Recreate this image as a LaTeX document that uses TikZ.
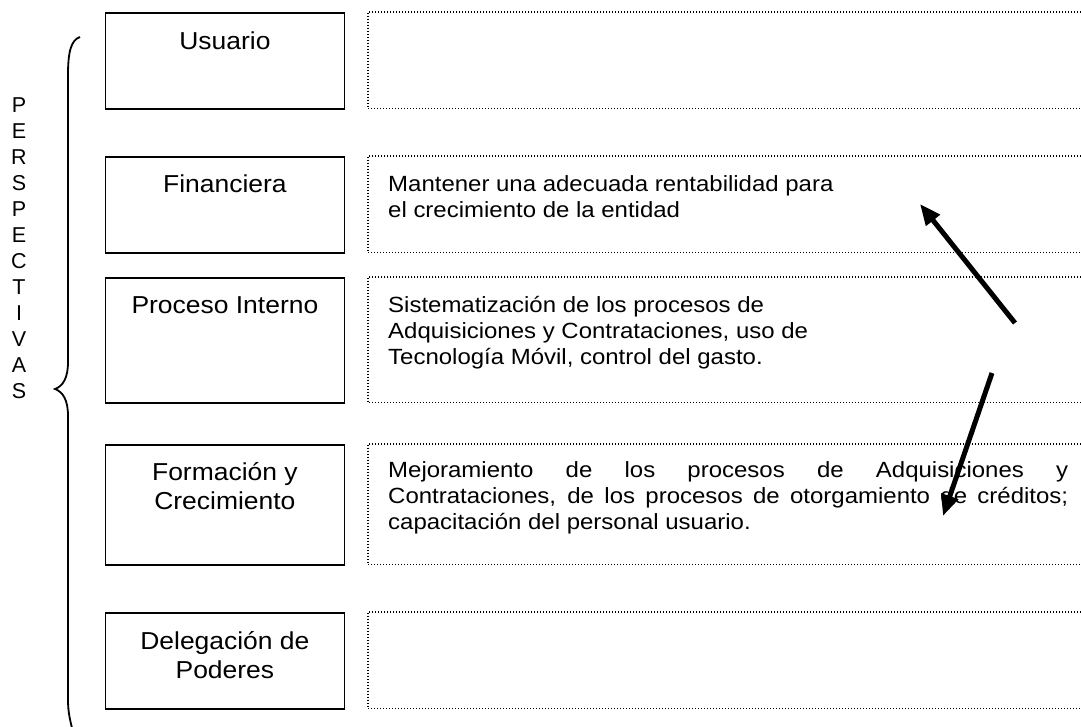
\documentclass[tikz,border=0pt]{standalone}
\usepackage{fontspec}
\setmainfont{Liberation Sans}
\newfontfamily\labfont[FakeStretch=1.08]{Liberation Sans}
\newfontfamily\txtfont[FakeStretch=1.09]{Liberation Sans}
\usetikzlibrary{arrows.meta}
\begin{document}
\begin{tikzpicture}[x=1pt,y=-1pt,
  persp/.style={draw, line width=1.8pt, minimum width=239pt, anchor=north west, inner sep=0pt},
  lab/.style={inner sep=0pt, align=center, anchor=base, font=\labfont\fontsize{24.5}{29}\selectfont},
  obj/.style={inner sep=0pt, minimum width=713pt, anchor=north west},
  dotline/.style={line width=1.3pt, dash pattern=on 1.2pt off 1.8pt},
  txt/.style={inner sep=0pt, align=left, anchor=base west, font=\txtfont\fontsize{22}{26}\selectfont},
  bigarrow/.style={line width=5pt, -{Triangle[length=21pt,width=17pt]}},
  brace/.style={line width=1.8pt}]
\useasboundingbox (0,0) rectangle (1081,726);

% vertical label (anchor base = last line)
\node[inner sep=0pt, align=center, anchor=base, font=\fontsize{21.5}{26}\selectfont] (persp) at (19,398)
  {P\\E\\R\\S\\P\\E\\C\\T\\I\\V\\A\\S};

% brace
\draw[brace] (80,37) .. controls (71,40) and (68,52) .. (68,75) -- (68,362)
  .. controls (68,378) and (63,386) .. (55,389)
  .. controls (63,392) and (68,400) .. (68,416) -- (68,700)
  .. controls (68,712) and (70,720) .. (73,732);

% left boxes
\node[persp, minimum height=96pt] (usu) at (104.5,12) {};
\node[persp, minimum height=96pt] (fin) at (104.5,156) {};
\node[persp, minimum height=125pt] (pro) at (104.5,277) {};
\node[persp, minimum height=120pt] (for) at (104.5,444) {};
\node[persp, minimum height=96pt] (del) at (104.5,612) {};

\node[lab] (usuL) at ([yshift=-37pt]usu.north) {Usuario};
\node[lab] (finL) at ([yshift=-36pt]fin.north) {Financiera};
\node[lab] (proL) at ([yshift=-36pt]pro.north) {Proceso Interno};
\node[lab] (forL) at ([yshift=-65pt]for.north) {Formación y\\Crecimiento};
\node[lab] (delL) at ([yshift=-66pt]del.north) {Delegación de\\Poderes};

% right dotted boxes
\node[obj, minimum height=96pt] (usuR) at (368,12) {};
\node[obj, minimum height=96pt] (finR) at (368,156) {};
\node[obj, minimum height=125pt] (proR) at (368,277) {};
\node[obj, minimum height=120pt] (forR) at (368,444) {};
\node[obj, minimum height=96pt] (delR) at (368,612) {};
\foreach \b in {usuR,finR,proR,forR,delR}
  \draw[dotline] (\b.north east) -- (\b.north west) -- (\b.south west) -- (\b.south east);

% texts (anchor base = last line for align=left; first line for text width)
\node[txt] (finT) at (388,217) {Mantener una adecuada rentabilidad para\\el crecimiento de la entidad};
\node[txt] (proT) at (388,364) {Sistematización de los procesos de\\Adquisiciones y Contrataciones, uso de\\Tecnología Móvil, control del gasto.};
\node[txt, text width=680pt, align=justify] (forT) at (388,477) {Mejoramiento de los procesos de Adquisiciones y\linebreak Contrataciones, de los procesos de otorgamiento de créditos;\linebreak capacitación del personal usuario.};

% arrows
\coordinate (a1s) at (1015,323);
\coordinate (a1e) at (920,204);
\coordinate (a2s) at (992,373);
\coordinate (a2e) at (943,516);
\draw[bigarrow] (a1s) -- (a1e);
\draw[bigarrow] (a2s) -- (a2e);
\end{tikzpicture}
\end{document}
